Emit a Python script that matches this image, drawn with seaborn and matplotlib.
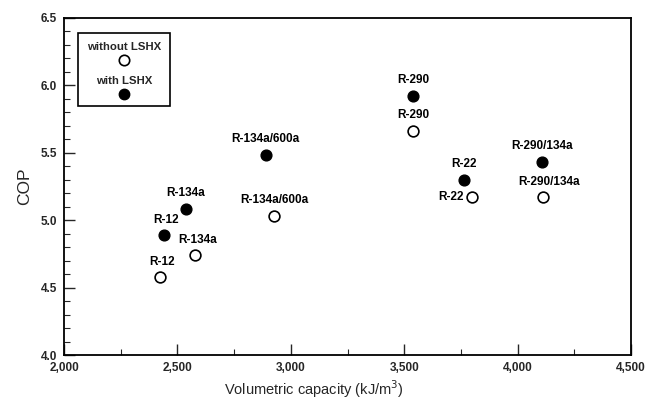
import matplotlib
matplotlib.use("Agg")
import matplotlib.pyplot as plt
import seaborn as sns
import pandas as pd
from matplotlib.ticker import MultipleLocator, FuncFormatter
from matplotlib.patches import Rectangle

# ---- data ----
refrigerants = ["R-12", "R-134a", "R-134a/600a", "R-290", "R-22", "R-290/134a"]
cap_without = [2422, 2576, 2928, 3541, 3798, 4112]
cop_without = [4.58, 4.74, 5.03, 5.66, 5.17, 5.17]
cap_with = [2441, 2537, 2889, 3541, 3764, 4109]
cop_with = [4.89, 5.08, 5.48, 5.92, 5.30, 5.43]
x_ticks = [2000, 2500, 3000, 3500, 4000, 4500]
y_ticks = [4.0, 4.5, 5.0, 5.5, 6.0, 6.5]

df = pd.concat([
    pd.DataFrame({"ref": refrigerants, "cap": cap_without, "cop": cop_without, "case": "without LSHX"}),
    pd.DataFrame({"ref": refrigerants, "cap": cap_with, "cop": cop_with, "case": "with LSHX"}),
], ignore_index=True)

# label offsets in pixels (style)
offsets = {
    ("without LSHX", "R-12"): (2, 15, "center"),
    ("without LSHX", "R-134a"): (3, 15, "center"),
    ("without LSHX", "R-134a/600a"): (0, 16, "center"),
    ("without LSHX", "R-290"): (0, 16, "center"),
    ("without LSHX", "R-22"): (-8, 0, "right"),
    ("without LSHX", "R-290/134a"): (6, 15, "center"),
    ("with LSHX", "R-12"): (2, 15, "center"),
    ("with LSHX", "R-134a"): (0, 16, "center"),
    ("with LSHX", "R-134a/600a"): (0, 16, "center"),
    ("with LSHX", "R-290"): (0, 16, "center"),
    ("with LSHX", "R-22"): (0, 16, "center"),
    ("with LSHX", "R-290/134a"): (0, 16, "center"),
}

sns.set_style("white")
plt.rcParams["font.family"] = ["Liberation Sans", "DejaVu Sans"]

fig = plt.figure(figsize=(6.45, 4.04), dpi=100)
ax = fig.add_axes([64 / 645, 1 - 355 / 404, (631 - 64) / 645, (355 - 18) / 404])

sns.scatterplot(data=df[df["case"] == "without LSHX"], x="cap", y="cop", ax=ax,
                marker="o", s=60, facecolor="white", edgecolor="black", linewidth=1.2,
                zorder=3, legend=False)
sns.scatterplot(data=df[df["case"] == "with LSHX"], x="cap", y="cop", ax=ax,
                marker="o", s=60, color="black", edgecolor="black", linewidth=1.0,
                zorder=3, legend=False)

for _, r in df.iterrows():
    dx, dy, ha = offsets[(r["case"], r["ref"])]
    ax.annotate(r["ref"], (r["cap"], r["cop"]), xytext=(dx, dy), textcoords="offset pixels",
                ha=ha, va="center", fontsize=8.5, fontweight="bold", color="black")

ax.set_xlim(x_ticks[0], x_ticks[-1])
ax.set_ylim(y_ticks[0], y_ticks[-1])
ax.set_xticks(x_ticks)
ax.set_yticks(y_ticks)
ax.xaxis.set_minor_locator(MultipleLocator(250))
ax.yaxis.set_minor_locator(MultipleLocator(0.1))
ax.xaxis.set_major_formatter(FuncFormatter(lambda v, p: f"{int(v):,}"))
ax.yaxis.set_major_formatter(FuncFormatter(lambda v, p: f"{v:.1f}"))
ax.tick_params(axis="both", which="major", direction="in", length=8, width=1.0,
               labelsize=8.5, pad=5, top=False, right=False, bottom=True, left=True)
ax.tick_params(axis="both", which="minor", direction="in", length=4, width=0.8,
               top=False, right=False, bottom=True, left=True)
for lab in ax.get_xticklabels() + ax.get_yticklabels():
    lab.set_fontweight("bold")

for sp in ax.spines.values():
    sp.set_visible(True)
    sp.set_color("black")
    sp.set_linewidth(1.3)

ax.set_xlabel("Volumetric capacity (kJ/m$^3$)", fontsize=10.5)
ax.xaxis.set_label_coords(0.44, -0.068)
ax.set_ylabel("COP", fontsize=12.5, labelpad=6)

# legend box
lx0, lx1 = (78 - 64) / 567, (170 - 64) / 567
ly1, ly0 = (355 - 33) / 337, (355 - 106) / 337
ax.add_patch(Rectangle((lx0, ly0), lx1 - lx0, ly1 - ly0, transform=ax.transAxes,
                       facecolor="white", edgecolor="black", linewidth=1.2, zorder=4))
cx = (124 - 64) / 567
ax.text(cx, (355 - 47) / 337, "without LSHX", transform=ax.transAxes, ha="center", va="center",
        fontsize=8.2, fontweight="bold", zorder=5)
ax.plot([cx], [(355 - 60) / 337], transform=ax.transAxes, marker="o", markersize=7.5,
        markerfacecolor="white", markeredgecolor="black", markeredgewidth=1.2, zorder=5)
ax.text(cx, (355 - 81) / 337, "with LSHX", transform=ax.transAxes, ha="center", va="center",
        fontsize=8.2, fontweight="bold", zorder=5)
ax.plot([cx], [(355 - 94) / 337], transform=ax.transAxes, marker="o", markersize=7.5,
        markerfacecolor="black", markeredgecolor="black", zorder=5)

fig.savefig("out.png", dpi=100)
